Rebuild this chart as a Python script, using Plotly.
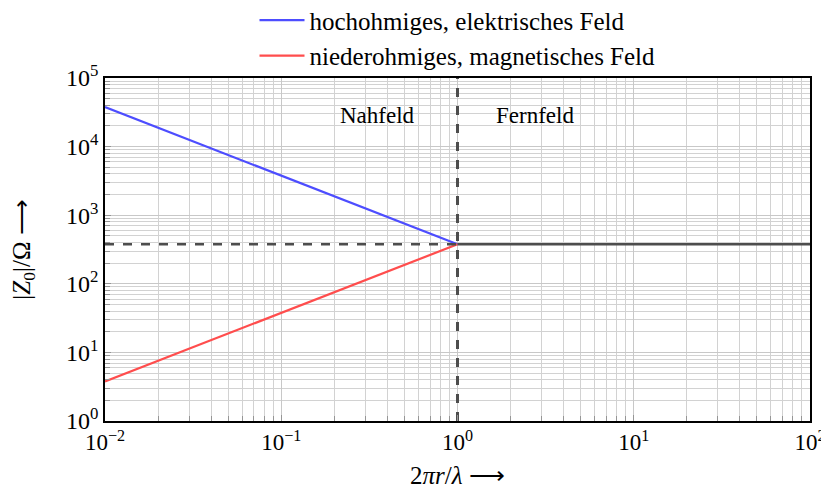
import math
import plotly.graph_objects as go

# Data
x_near = [0.01, 1.0]
z_electric = [37700, 377]
z_magnetic = [3.77, 377]
x_far = [1.0, 100.0]
z_far = [377, 377]
x_boundary = [1.0, 1.0]
z_boundary = [1.0, 1e5]
x_tick_vals = [0.01, 0.1, 1, 10, 100]
x_tick_text = ["10<sup>−2</sup>", "10<sup>−1</sup>", "10<sup>0</sup>", "10<sup>1</sup>", "10<sup>2</sup>"]
y_tick_vals = [1, 10, 100, 1000, 10000, 100000]
y_tick_text = ["10<sup>0</sup>", "10<sup>1</sup>", "10<sup>2</sup>", "10<sup>3</sup>", "10<sup>4</sup>", "10<sup>5</sup>"]
region_labels = ["Nahfeld", "Fernfeld"]
region_x = [0.35, 2.75]
region_y = [10**4.46, 10**4.46]

x_minor = [m * d for d in x_tick_vals[:-1] for m in range(2, 10)]
y_minor = [m * d for d in y_tick_vals[:-1] for m in range(2, 10)]

FONT = "Liberation Serif"
fig = go.Figure()

fig.add_trace(go.Scatter(x=x_near, y=z_electric, mode="lines", name="hochohmiges, elektrisches Feld",
                         line=dict(color="rgb(77,77,255)", width=2.2)))
fig.add_trace(go.Scatter(x=x_near, y=z_magnetic, mode="lines", name="niederohmiges, magnetisches Feld",
                         line=dict(color="rgb(255,77,77)", width=2.2)))
fig.add_trace(go.Scatter(x=x_far, y=z_far, mode="lines", showlegend=False,
                         line=dict(color="rgb(77,77,77)", width=2.5)))
fig.add_trace(go.Scatter(x=[x_near[0], x_near[1]], y=[z_far[0], z_far[0]], mode="lines", showlegend=False,
                         line=dict(color="rgb(77,77,77)", width=2.5, dash="dash")))
fig.add_trace(go.Scatter(x=x_boundary, y=z_boundary, mode="lines", showlegend=False,
                         line=dict(color="rgb(77,77,77)", width=3, dash="dash")))

for t, xx, yy in zip(region_labels, region_x, region_y):
    fig.add_annotation(x=math.log10(xx), y=math.log10(yy), xref="x", yref="y", text=t, showarrow=False,
                       font=dict(family=FONT, size=23, color="black"))

def axis_style(minor_vals, fsize):
    return dict(type="log", showgrid=True, gridcolor="rgb(200,200,200)", gridwidth=1,
                showline=True, linecolor="black", linewidth=1.5, mirror=True,
                ticks="inside", ticklen=6, tickcolor="rgb(150,150,150)", ticklabeloverflow="allow",
                zeroline=False, tickfont=dict(family=FONT, size=fsize, color="black"),
                minor=dict(tickmode="array", tickvals=minor_vals, showgrid=True,
                           gridcolor="rgb(210,210,210)", gridwidth=1,
                           ticks="inside", ticklen=5, tickcolor="rgb(150,150,150)"))

fig.update_xaxes(**axis_style(x_minor, 23), range=[-2, 2], tickmode="array", tickvals=x_tick_vals, ticktext=x_tick_text,
                 title=dict(text="2<i>πr</i>/<i>λ</i> ⟶", font=dict(family=FONT, size=25, color="black"), standoff=12))
fig.update_yaxes(**axis_style(y_minor, 24), range=[0, 5], tickmode="array", tickvals=y_tick_vals, ticktext=y_tick_text,
                 title=dict(text="|<i>Z</i><sub>0</sub>|/Ω ⟶", font=dict(family=FONT, size=25, color="black"), standoff=34))

fig.update_layout(
    width=821, height=491,
    margin=dict(l=97, r=19, t=70, b=78, autoexpand=False),
    paper_bgcolor="white", plot_bgcolor="white",
    font=dict(family=FONT, size=24, color="black"),
    legend=dict(x=0.5, xanchor="center", y=1.235, yanchor="top", bgcolor="rgba(0,0,0,0)",
                font=dict(family=FONT, size=25), itemwidth=45, tracegroupgap=0),
)

fig.write_html("out.html")
